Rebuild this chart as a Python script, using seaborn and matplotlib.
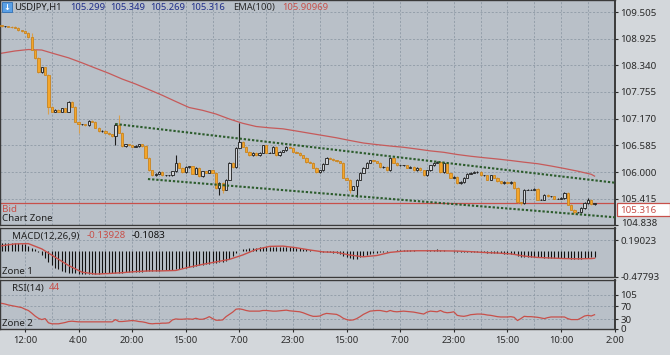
import numpy as np
import pandas as pd
import matplotlib
matplotlib.use('Agg')
import matplotlib.pyplot as plt
from matplotlib.patches import Rectangle
import seaborn as sns

# ---- data (one hourly bar per entry) ----
first_open = 109.22
closes = [
    109.20, 109.20, 109.19, 109.18, 109.16, 109.11, 109.09, 109.05, 108.96, 108.68,
    108.50, 108.19, 108.30, 108.13, 107.43, 107.32, 107.36, 107.32, 107.40, 107.32,
    107.54, 107.43, 107.10, 107.05, 107.05, 107.03, 107.12, 107.10, 106.97, 106.90,
    106.90, 106.86, 106.83, 106.79, 107.03, 106.86, 106.57, 106.61, 106.59, 106.55,
    106.57, 106.61, 106.57, 106.31, 106.04, 105.93, 105.96, 106.00, 105.93, 105.93,
    105.93, 106.02, 106.20, 106.09, 106.00, 106.11, 106.13, 105.96, 106.09, 105.91,
    106.02, 105.98, 106.04, 105.98, 105.65, 105.76, 105.61, 105.83, 106.20, 106.11,
    106.53, 106.66, 106.55, 106.44, 106.37, 106.42, 106.37, 106.42, 106.59, 106.42,
    106.42, 106.55, 106.37, 106.44, 106.48, 106.55, 106.53, 106.44, 106.42, 106.37,
    106.31, 106.22, 106.20, 106.09, 106.00, 106.04, 106.18, 106.31, 106.29, 106.26,
    106.24, 106.20, 105.87, 105.83, 105.61, 105.69, 105.83, 105.98, 106.09, 106.20,
    106.26, 106.24, 106.20, 106.11, 106.11, 106.04, 106.31, 106.20, 106.15, 106.15,
    106.15, 106.09, 106.11, 106.04, 106.09, 106.04, 105.93, 106.04, 106.15, 106.20,
    106.22, 106.00, 106.20, 105.98, 105.87, 105.89, 105.76, 105.78, 105.87, 105.96,
    105.98, 106.00, 106.00, 105.93, 105.93, 105.83, 105.93, 105.87, 105.80, 105.76,
    105.78, 105.76, 105.78, 105.65, 105.34, 105.32, 105.61, 105.61, 105.61, 105.63,
    105.39, 105.39, 105.50, 105.47, 105.47, 105.41, 105.41, 105.43, 105.54, 105.28,
    105.17, 105.12, 105.12, 105.21, 105.32, 105.39, 105.299, 105.316,
]
# bars whose shadows stick out clearly
wick_high = {9: 109.05, 34: 107.07, 35: 107.25, 52: 106.37, 71: 107.07, 168: 105.56, 175: 105.43}
wick_low = {14: 107.27, 23: 106.86, 34: 106.59, 65: 105.50, 66: 105.55, 104: 105.55,
            106: 105.45, 155: 105.28, 171: 105.09}
WICK = 0.012

# EMA(100), read every 4th bar
ema_bars = list(range(0, 177, 4)) + [177]
ema = [
    108.605, 108.654, 108.686, 108.675, 108.588, 108.504, 108.395, 108.279, 108.165, 108.039,
    107.930, 107.807, 107.682, 107.546, 107.414, 107.353, 107.272, 107.162, 107.068, 106.998,
    106.969, 106.947, 106.899, 106.849, 106.800, 106.750, 106.691, 106.636, 106.601, 106.570,
    106.542, 106.504, 106.463, 106.432, 106.384, 106.346, 106.314, 106.285, 106.252, 106.215,
    106.182, 106.132, 106.077, 106.018, 105.950, 105.910,
]

# trend channel (bar, price)
chan_upper = ([34, 183.1], [107.053, 105.765])
chan_lower = ([43.7, 183.1], [105.846, 105.007])

# MACD(12,26,9)
macd_hist = [
    0.14, 0.14, 0.14, 0.14, 0.14, 0.13, 0.12, 0.11, 0.09, 0.05, 0.02, -0.03,
    -0.08, -0.13, -0.20, -0.26, -0.31, -0.34, -0.37, -0.39, -0.40, -0.41, -0.41, -0.42,
    -0.42, -0.42, -0.42, -0.42, -0.42, -0.42, -0.41, -0.41, -0.41, -0.40, -0.40, -0.40,
    -0.40, -0.39, -0.39, -0.39, -0.38, -0.38, -0.38, -0.37, -0.37, -0.37, -0.37, -0.37,
    -0.36, -0.36, -0.36, -0.35, -0.34, -0.33, -0.32, -0.31, -0.30, -0.29, -0.28, -0.27,
    -0.26, -0.25, -0.24, -0.23, -0.22, -0.21, -0.20, -0.18, -0.15, -0.10, -0.05, 0.00,
    0.02, 0.03, 0.04, 0.05, 0.05, 0.06, 0.06, 0.07, 0.07, 0.07, 0.07, 0.07,
    0.07, 0.07, 0.06, 0.06, 0.05, 0.04, 0.03, 0.02, 0.01, 0.00, -0.01, -0.02,
    -0.02, -0.03, -0.03, -0.04, -0.05, -0.07, -0.09, -0.11, -0.14, -0.16, -0.15, -0.12,
    -0.10, -0.08, -0.06, -0.05, -0.04, -0.03, -0.03, -0.02, -0.01, 0.00, 0.01, 0.01,
    0.01, 0.01, 0.01, 0.01, 0.00, 0.00, 0.00, 0.01, 0.01, 0.01, 0.02, 0.01,
    0.01, 0.00, -0.01, -0.02, -0.03, -0.03, -0.03, -0.02, -0.02, -0.02, -0.02, -0.03,
    -0.03, -0.04, -0.04, -0.05, -0.05, -0.05, -0.06, -0.06, -0.06, -0.07, -0.09, -0.11,
    -0.11, -0.11, -0.11, -0.11, -0.12, -0.12, -0.13, -0.13, -0.13, -0.13, -0.13, -0.13,
    -0.13, -0.14, -0.15, -0.16, -0.16, -0.15, -0.14, -0.13, -0.12, -0.11,
]
signal_bars = list(range(0, 177, 4)) + [177]
macd_signal = [
    0.085, 0.12, 0.125, 0.03, -0.12, -0.27, -0.39, -0.425, -0.415, -0.40,
    -0.38, -0.368, -0.367, -0.36, -0.30, -0.25, -0.205, -0.16, -0.08, 0.02,
    0.075, 0.08, 0.05, 0.01, -0.025, -0.033, -0.082, -0.113, -0.09, -0.033,
    -0.01, -0.004, -0.004, -0.006, -0.009, -0.02, -0.035, -0.045, -0.06, -0.10,
    -0.125, -0.135, -0.145, -0.149, -0.145, -0.139,
]

# RSI(14)
rsi = [
    79, 77, 74, 72, 70, 68, 66, 61, 57, 49, 40, 33, 29, 32, 19, 16, 16, 16, 18, 20,
    23, 24, 23, 22, 22, 22, 22, 22, 22, 22, 22, 22, 22, 22, 29, 23, 23, 24, 25, 26,
    25, 23, 22, 20, 17, 16, 17, 17, 18, 18, 19, 28, 31, 30, 30, 31, 31, 30, 33, 30,
    30, 33, 38, 32, 27, 27, 28, 38, 45, 52, 61, 62, 60, 57, 55, 55, 55, 55, 57, 57,
    56, 55, 55, 56, 57, 58, 56, 55, 54, 53, 50, 46, 42, 39, 39, 40, 45, 48, 47, 46,
    45, 40, 33, 29, 27, 28, 32, 38, 45, 50, 55, 56, 57, 57, 55, 53, 57, 54, 53, 54,
    55, 54, 53, 52, 50, 48, 46, 52, 55, 54, 53, 57, 52, 50, 51, 53, 42, 40, 39, 41,
    44, 45, 46, 46, 45, 43, 42, 40, 38, 37, 37, 37, 38, 36, 26, 32, 39, 38, 38, 37,
    36, 34, 32, 35, 37, 37, 37, 37, 37, 32, 29, 29, 29, 34, 40, 42, 40, 44,
]

time_labels = ['12:00', '4:00', '20:00', '15:00', '7:00', '23:00',
               '15:00', '7:00', '23:00', '15:00', '10:00', '2:00']
price_ticks = [109.505, 108.925, 108.340, 107.755, 107.170, 106.585, 106.000, 105.415, 104.838]
bid = 105.316

# ---- build frames ----
bars = np.arange(len(closes))
opens = [first_open] + closes[:-1]
df = pd.DataFrame({'bar': bars, 'open': opens, 'close': closes})
df['high'] = [wick_high.get(i, max(o, c) + WICK) for i, o, c in zip(bars, opens, closes)]
df['low'] = [wick_low.get(i, min(o, c) - WICK) for i, o, c in zip(bars, opens, closes)]

W, H = 670, 355
PANEL = '#b9c0c8'
GRID = '#8f9aa6'
RED = '#c8504a'
plt.rcParams['font.family'] = ['Noto Sans', 'DejaVu Sans']

fig = plt.figure(figsize=(W / 100, H / 100), dpi=100)
fig.patch.set_facecolor('#d3d7db')


def px_axes(x0, y0, x1, y1):
    return fig.add_axes([x0 / W, 1 - y1 / H, (x1 - x0) / W, (y1 - y0) / H])


ax = px_axes(0, 0, 615, 225)
ax_m = px_axes(0, 228, 615, 277)
ax_r = px_axes(0, 280, 615, 329)

XMIN, XMAX = -0.46, 183.1
label_pos = [7 + 16 * j for j in range(len(time_labels))]
grid_pos = [7 + 8 * j for j in range(2 * len(time_labels) - 1)]

for a in (ax, ax_m, ax_r):
    a.set_facecolor(PANEL)
    a.set_xlim(XMIN, XMAX)
    a.set_xticks(label_pos)
    a.set_xticks(grid_pos, minor=True)
    a.grid(which='both', axis='both', color=GRID, lw=0.6, ls=(0, (2.5, 2)))
    a.set_axisbelow(True)
    a.yaxis.tick_right()
    a.tick_params(axis='y', length=2.5, width=0.8, pad=1.5, labelsize=7, colors='#2a2a2a')
    a.tick_params(axis='x', which='both', length=0)
    for s in a.spines.values():
        s.set_color('#3a3a3a')
        s.set_linewidth(1.0)
    a.spines['right'].set_linewidth(1.4)
ax.set_xticklabels([])
ax_m.set_xticklabels([])

# ---- main price panel ----
ax.set_ylim(104.838, 109.772)
ax.set_yticks(price_ticks)
ax.set_yticklabels(['%.3f' % t for t in price_ticks[:-1]] + [''])
ax.annotate('%.3f' % price_ticks[-1], xy=(1, price_ticks[-1]),
            xycoords=('axes fraction', 'data'), xytext=(4.5, 1.2), textcoords='offset points',
            fontsize=7, color='#2a2a2a', va='center', ha='left', annotation_clip=False)

up = df[df.close >= df.open]
dn = df[df.close < df.open]
ax.vlines(up.bar, up.low, up.high, color='#1c1c1c', lw=0.8, zorder=3)
ax.vlines(dn.bar, dn.low, dn.high, color='#d9a050', lw=0.8, zorder=3)
for sub, face, edge in [(up, '#d3d6da', '#1c1c1c'), (dn, '#f4a62a', '#c98420')]:
    ax.bar(sub.bar, (sub.close - sub.open).abs().clip(lower=0.006),
           bottom=np.minimum(sub.open, sub.close), width=0.68,
           color=face, edgecolor=edge, linewidth=0.6, zorder=4)

sns.lineplot(x=ema_bars, y=ema, ax=ax, color='#c65a5a', lw=0.9, zorder=2)
for xs, ys in (chan_upper, chan_lower):
    sns.lineplot(x=xs, y=ys, ax=ax, color='#2c5c2c', lw=1.5, ls=(0, (1.1, 0.9)), zorder=5)
ax.axhline(bid, color=RED, lw=0.9, zorder=2)

# bid price tag on the scale
ytag = fig.transFigure.inverted().transform(ax.transData.transform((0, bid)))[1]
fig.add_artist(Rectangle((617 / W, ytag - 13 / H), 53 / W, 13 / H, transform=fig.transFigure,
                         fc='white', ec=RED, lw=0.9, zorder=10))
fig.text(620 / W, ytag - 6.8 / H, '%.3f' % bid, color=RED, fontsize=7, va='center', zorder=11)

fig.text(2 / W, 1 - 210 / H, 'Bid', color=RED, fontsize=7, va='center')
fig.text(2 / W, 1 - 218.5 / H, 'Chart Zone', color='#222222', fontsize=7, va='center')

# header
fig.add_artist(Rectangle((2 / W, 1 - 12 / H), 10 / W, 10 / H, transform=fig.transFigure,
                         fc='#5aa0e6', ec='#2f6fb5', lw=0.6))
fig.text(7 / W, 1 - 7 / H, '↓', color='white', fontsize=6, ha='center', va='center',
         fontweight='bold', family='DejaVu Sans')
header = [(14, 'USDJPY,H1', '#1c1c1c'), (70, '105.299', '#1f2d8a'), (110, '105.349', '#1f2d8a'),
          (150, '105.269', '#1f2d8a'), (190, '105.316', '#1f2d8a'), (233, 'EMA(100)', '#2a2a2a'),
          (282, '105.90969', RED)]
for x, s, c in header:
    fig.text(x / W, 1 - 7.5 / H, s, color=c, fontsize=6.8, va='center')

# ---- MACD panel ----
ax_m.set_ylim(-0.47793, 0.407)
ax_m.set_yticks([0.19023, -0.47793])
ax_m.set_yticklabels(['0.19023', '-0.47793'])
ax_m.vlines(bars, 0, macd_hist, color='#111111', lw=0.8, zorder=3)
sns.lineplot(x=signal_bars, y=macd_signal, ax=ax_m, color=RED, lw=1.0, zorder=4)
fig.text(12 / W, 1 - 236 / H, 'MACD(12,26,9)', color='#222222', fontsize=7, va='center')
fig.text(87 / W, 1 - 236 / H, '-0.13928', color=RED, fontsize=7, va='center')
fig.text(132 / W, 1 - 236 / H, '-0.1083', color='#111111', fontsize=7, va='center')
fig.text(2 / W, 1 - 271 / H, 'Zone 1', color='#222222', fontsize=7, va='center')

# ---- RSI panel ----
ax_r.set_ylim(0, 150.8)
ax_r.set_yticks([105, 70, 30, 0])
ax_r.set_yticklabels(['105', '70', '30', '0'])
sns.lineplot(x=bars, y=rsi, ax=ax_r, color=RED, lw=0.9, zorder=3)
ax_r.set_xticklabels(time_labels)
ax_r.tick_params(axis='x', which='major', length=2.5, width=0.8, pad=2.5,
                 labelsize=6.8, colors='#2a2a2a', direction='out')
fig.text(12 / W, 1 - 288 / H, 'RSI(14)', color='#222222', fontsize=7, va='center')
fig.text(49 / W, 1 - 288 / H, '44', color=RED, fontsize=7, va='center')
fig.text(2 / W, 1 - 323 / H, 'Zone 2', color='#222222', fontsize=7, va='center')

for a in (ax, ax_m, ax_r):
    a.set_xlabel('')
    a.set_ylabel('')

fig.savefig('out.png', dpi=100, facecolor=fig.get_facecolor())
